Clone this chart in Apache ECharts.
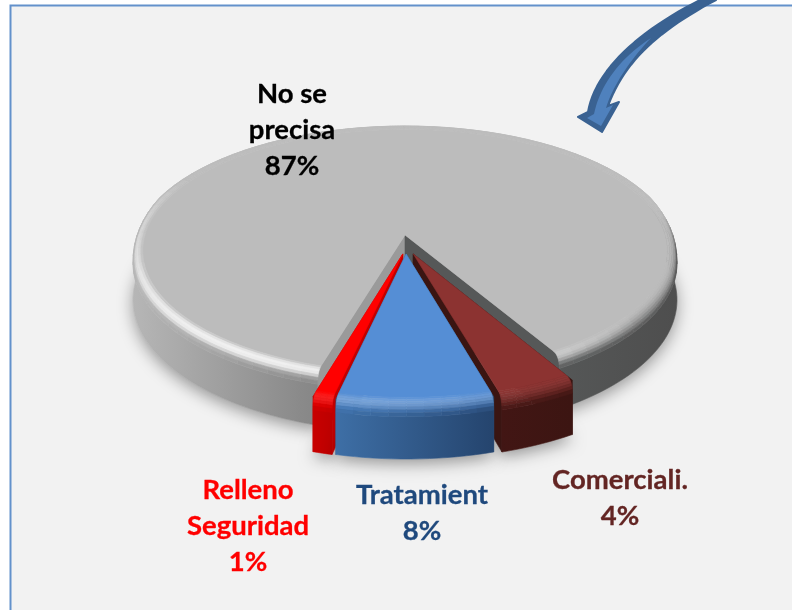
<!DOCTYPE html>
<html><head><meta charset="utf-8">
<style>html,body{margin:0;padding:0;background:#fff}#c{width:792px;height:610px}</style>
<script src="https://cdn.jsdelivr.net/npm/echarts@6/dist/echarts.min.js"></script>
</head><body><div id="c"></div>
<script>
// ---- data (Excel order: clockwise from the first slice)
const categories = ['No se precisa', 'Comerciali.', 'Tratamient', 'Relleno Seguridad'];
const values = [87, 4, 8, 1];
const labelLines = [['No se', 'precisa'], ['Comerciali.'], ['Tratamient'], ['Relleno', 'Seguridad']];

// ---- style
const labelColors = ['#000000', '#632523', '#1f497d', '#ff0000'];
const topColors = ['#bcbcbc', '#8c3331', '#558ed5', '#ff0000'];
const wallColors = [['#9a9a9a', '#565858'], ['#3a1512', '#3a1512'], ['#2d5480', '#2d5480'], ['#c00000', '#c00000']];
const sideStops = [
  [[133, '#b6b6b6'], [300, '#8a8a8a'], [560, '#555757'], [677, '#4e4e4e']],
  [[500, '#421614'], [572, '#3c1512']],
  [[335, '#3e6fa6'], [498, '#24436c']],
  [[313, '#c80000'], [333, '#bc0000']]
];
const highlight = [0.95, 0.06, 0.28, 0.15];
const offsets = [[0, 0], [0.03, 0.15], [0.004, 0.15], [-0.008, 0.15]];
const drawOrder = [0, 1, 3, 2];
const labelPos = [[292, 94], [620, 480], [422, 495], [248, 490]];

// ---- projection of the pie disc
const CX = 405, CY = 235, AX = 269.5, AY = 123.7, K = 0.135, DEPTH = 47;
const START = 16.4 * Math.PI / 180, BEVEL_R = 0.035, BEVEL_H = 0.24;

function pt(th, r, h, ou, ov) {
  const u = ou - r * Math.sin(th), v = ov + r * Math.cos(th), s = 1 / (1 - K * v);
  return [CX + AX * u * s, CY + AY * v * s + DEPTH * h * s];
}
function hex(c) { return [1, 3, 5].map(i => parseInt(c.substr(i, 2), 16)); }
function mix(a, b, t) { return a.map((x, i) => x + (b[i] - x) * t); }
function rgb(a) { return 'rgb(' + a.map(x => Math.round(x)).join(',') + ')'; }
function clamp(x) { return Math.max(0, Math.min(1, x)); }
function sideAt(i, x) {
  const st = sideStops[i];
  if (x <= st[0][0]) return hex(st[0][1]);
  for (let k = 1; k < st.length; k++) {
    if (x <= st[k][0]) return mix(hex(st[k - 1][1]), hex(st[k][1]), (x - st[k - 1][0]) / (st[k][0] - st[k - 1][0]));
  }
  return hex(st[st.length - 1][1]);
}
function sideGrad(i) {
  const st = sideStops[i], a = st[0][0], b = st[st.length - 1][0];
  return new echarts.graphic.LinearGradient(a, 0, b, 0, st.map(s => ({ offset: (s[0] - a) / (b - a), color: s[1] })), true);
}
function poly(points, fill, extra) {
  return { type: 'polygon', shape: { points }, style: Object.assign({ fill, stroke: fill, lineWidth: 0.6 }, extra || {}) };
}
function arc(a0, a1, r, h, ou, ov) {
  const n = Math.max(4, Math.ceil((a1 - a0) / 0.03)), out = [];
  for (let j = 0; j <= n; j++) out.push(pt(a0 + (a1 - a0) * j / n, r, h, ou, ov));
  return out;
}

const total = values.reduce((a, b) => a + b, 0);
function renderItem(params, api) {
  const i = params.dataIndex;
  let before = 0;
  for (let j = 0; j < i; j++) before += values[j];
  const a0 = START + 2 * Math.PI * before / total;
  const a1 = a0 + 2 * Math.PI * api.value(0) / total;
  const ou = offsets[i][0], ov = offsets[i][1];
  const kids = [];

  // soft floor shadow
  kids.push(poly([pt(a0, 0, 1, ou, ov)].concat(arc(a0, a1, 1, 1, ou, ov)), '#e6e6e6', {
    shadowBlur: 16, shadowColor: 'rgba(0,0,0,0.38)', shadowOffsetY: 5, lineWidth: 0
  }));
  // radial cut faces
  const wall = (a, col) => poly([pt(a, 0, 0, ou, ov), pt(a, 1, 0, ou, ov), pt(a, 1, 1, ou, ov), pt(a, 0, 1, ou, ov)], col);
  kids.push(wall(a0, wallColors[i][0]));
  kids.push(wall(a1, wallColors[i][1]));
  // outer side
  const up = arc(a0, a1, 1, BEVEL_H, ou, ov), low = arc(a0, a1, 1, 1, ou, ov).reverse();
  kids.push(poly(up.concat(low), sideGrad(i)));
  // top face
  const topC = hex(topColors[i]);
  kids.push(poly([pt(a0, 0, 0, ou, ov)].concat(arc(a0, a1, 1 - BEVEL_R, 0, ou, ov)), topColors[i]));
  // bevel rim
  const LV = 7, segs = Math.max(3, Math.ceil((a1 - a0) / 0.06));
  const hf = (b) => clamp((Math.cos(b) + 0.3) / 0.5);
  for (let l = 0; l < LV; l++) {
    const t0 = l / LV, t1 = (l + 1) / LV, tm = (t0 + t1) / 2;
    const r0 = 1 - BEVEL_R * (1 - t0) * (1 - t0), r1 = 1 - BEVEL_R * (1 - t1) * (1 - t1);
    const h0 = BEVEL_H * t0 * t0, h1 = BEVEL_H * t1 * t1;
    for (let s = 0; s < segs; s++) {
      const b0 = a0 + (a1 - a0) * s / segs, b1 = a0 + (a1 - a0) * (s + 1) / segs, bm = (b0 + b1) / 2;
      const u = -Math.sin(bm), v = Math.cos(bm);
      const hl = clamp(v * 0.75 - u * 0.5 - 0.05) * highlight[i];
      const vis = clamp((v + 0.2) / 0.3);
      const p = pt(bm, 1, 0, ou, ov);
      let c = mix(topC, sideAt(i, p[0]), vis * tm * tm);
      const bump = Math.sin(Math.PI * Math.min(1, tm * 1.25));
      c = mix(c, [255, 255, 255], clamp(hl * bump));
      kids.push(poly([pt(b0, r0, h0 * hf(b0), ou, ov), pt(b1, r0, h0 * hf(b1), ou, ov),
        pt(b1, r1, h1 * hf(b1), ou, ov), pt(b0, r1, h1 * hf(b0), ou, ov)], rgb(c)));
    }
  }
  // label
  const lines = labelLines[i].concat([api.value(0) + '%']);
  lines.forEach((t, n) => kids.push({
    type: 'text',
    style: {
      x: labelPos[i][0], y: labelPos[i][1] + n * 36, text: t, fill: labelColors[i],
      stroke: labelColors[i], lineWidth: 0.3,
      font: 'bold 27.5px Lato, "Open Sans", sans-serif', align: 'center', verticalAlign: 'middle'
    }
  }));
  kids.forEach((k, n) => { k.z2 = drawOrder[i] * 10000 + n; });
  return { type: 'group', children: kids };
}

function bez(p0, c1, c2, p1, n) {
  const out = [];
  for (let j = 0; j <= n; j++) {
    const t = j / n, m = 1 - t, f = (q) => m * m * m * p0[q] + 3 * m * m * t * c1[q] + 3 * m * t * t * c2[q] + t * t * t * p1[q];
    out.push([f(0), f(1)]);
  }
  return out;
}
const arrowOuter = bez([700, 0], [640, 30], [595, 70], [588, 112], 24)
  .concat([[578, 117], [602, 132], [619, 102], [608, 106]])
  .concat(bez([608, 106], [625, 60], [660, 30], [716, 0], 24));
const arrowInner = bez([651, 38], [620, 58], [600, 85], [594, 114], 20)
  .concat([[587, 118], [601, 126], [613, 105], [606, 108]])
  .concat(bez([606, 108], [612, 88], [628, 62], [651, 38], 20));

const chart = echarts.init(document.getElementById('c'), null, { renderer: 'canvas' });
chart.setOption({
  animation: false,
  backgroundColor: '#ffffff',
  graphic: [
    { type: 'rect', z: -10, shape: { x: 10.5, y: 5.5, width: 800, height: 640 },
      style: { fill: '#f2f2f2', stroke: '#6391cb', lineWidth: 2 } },
    { type: 'polygon', z: 10, shape: { points: arrowOuter },
      style: { fill: '#3a6292', stroke: '#3a6292', lineWidth: 2, lineJoin: 'round' } },
    { type: 'polygon', z: 11, shape: { points: arrowInner }, style: { fill: '#4f81bd' } }
  ],
  series: [{
    type: 'custom', coordinateSystem: 'none', silent: true, renderItem,
    data: categories.map((name, i) => ({ name, value: values[i] }))
  }]
});
</script></body></html>
